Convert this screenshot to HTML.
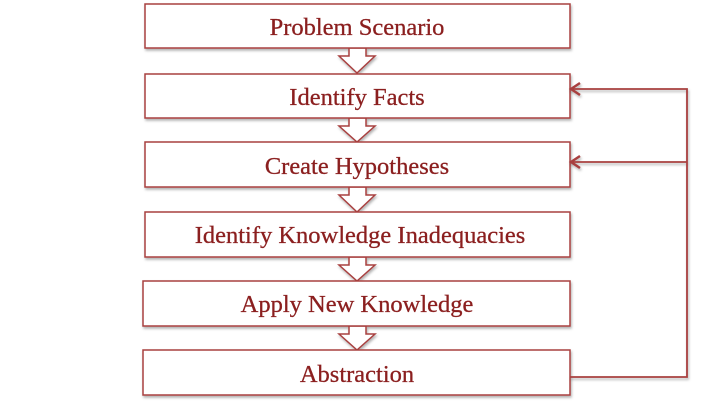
<!DOCTYPE html><html><head><style>body{margin:0;background:#fff}</style></head><body>
<svg width="715" height="404" xmlns="http://www.w3.org/2000/svg" font-family="Liberation Serif, serif">
<defs><filter id="s" x="-5%" y="-20%" width="110%" height="150%"><feDropShadow dx="1" dy="2" stdDeviation="1.2" flood-opacity="0.3"/></filter></defs>
<g fill="#fff" stroke="#a8403f" stroke-width="1.5" filter="url(#s)">
<path d="M349,48 h17 v8 h9 l-18,17 l-18,-17 h10 z"/>
<path d="M349,118 h17 v8 h9 l-18,16 l-18,-16 h10 z"/>
<path d="M349,187 h17 v8 h9 l-18,17 l-18,-17 h10 z"/>
<path d="M349,257 h17 v8 h9 l-18,16 l-18,-16 h10 z"/>
<path d="M349,326 h17 v8 h9 l-18,16 l-18,-16 h10 z"/>
<rect x="145" y="4" width="425" height="44"/>
<rect x="145" y="74" width="425" height="44"/>
<rect x="145" y="142" width="425" height="45"/>
<rect x="145" y="212" width="425" height="45"/>
<rect x="143" y="281" width="427" height="45"/>
<rect x="143" y="350" width="427" height="45"/>
</g>
<g fill="none" stroke="#a8403f" stroke-width="1.8" filter="url(#s)">
<path d="M570,377 H687 V89 H571"/>
<path d="M687,162 H571"/>
<path d="M580,83 L571,89 L580,95" stroke-width="2.5"/>
<path d="M580,156 L571,162 L580,168" stroke-width="2.5"/>
</g>
<g fill="#8b1f1f" stroke="#8b1f1f" stroke-width="0.3" font-size="24.5" text-anchor="middle">
<text x="357" y="35">Problem Scenario</text>
<text x="357" y="105">Identify Facts</text>
<text x="357" y="174">Create Hypotheses</text>
<text x="360" y="243">Identify Knowledge Inadequacies</text>
<text x="357" y="312">Apply New Knowledge</text>
<text x="357" y="382">Abstraction</text>
</g>
</svg></body></html>
